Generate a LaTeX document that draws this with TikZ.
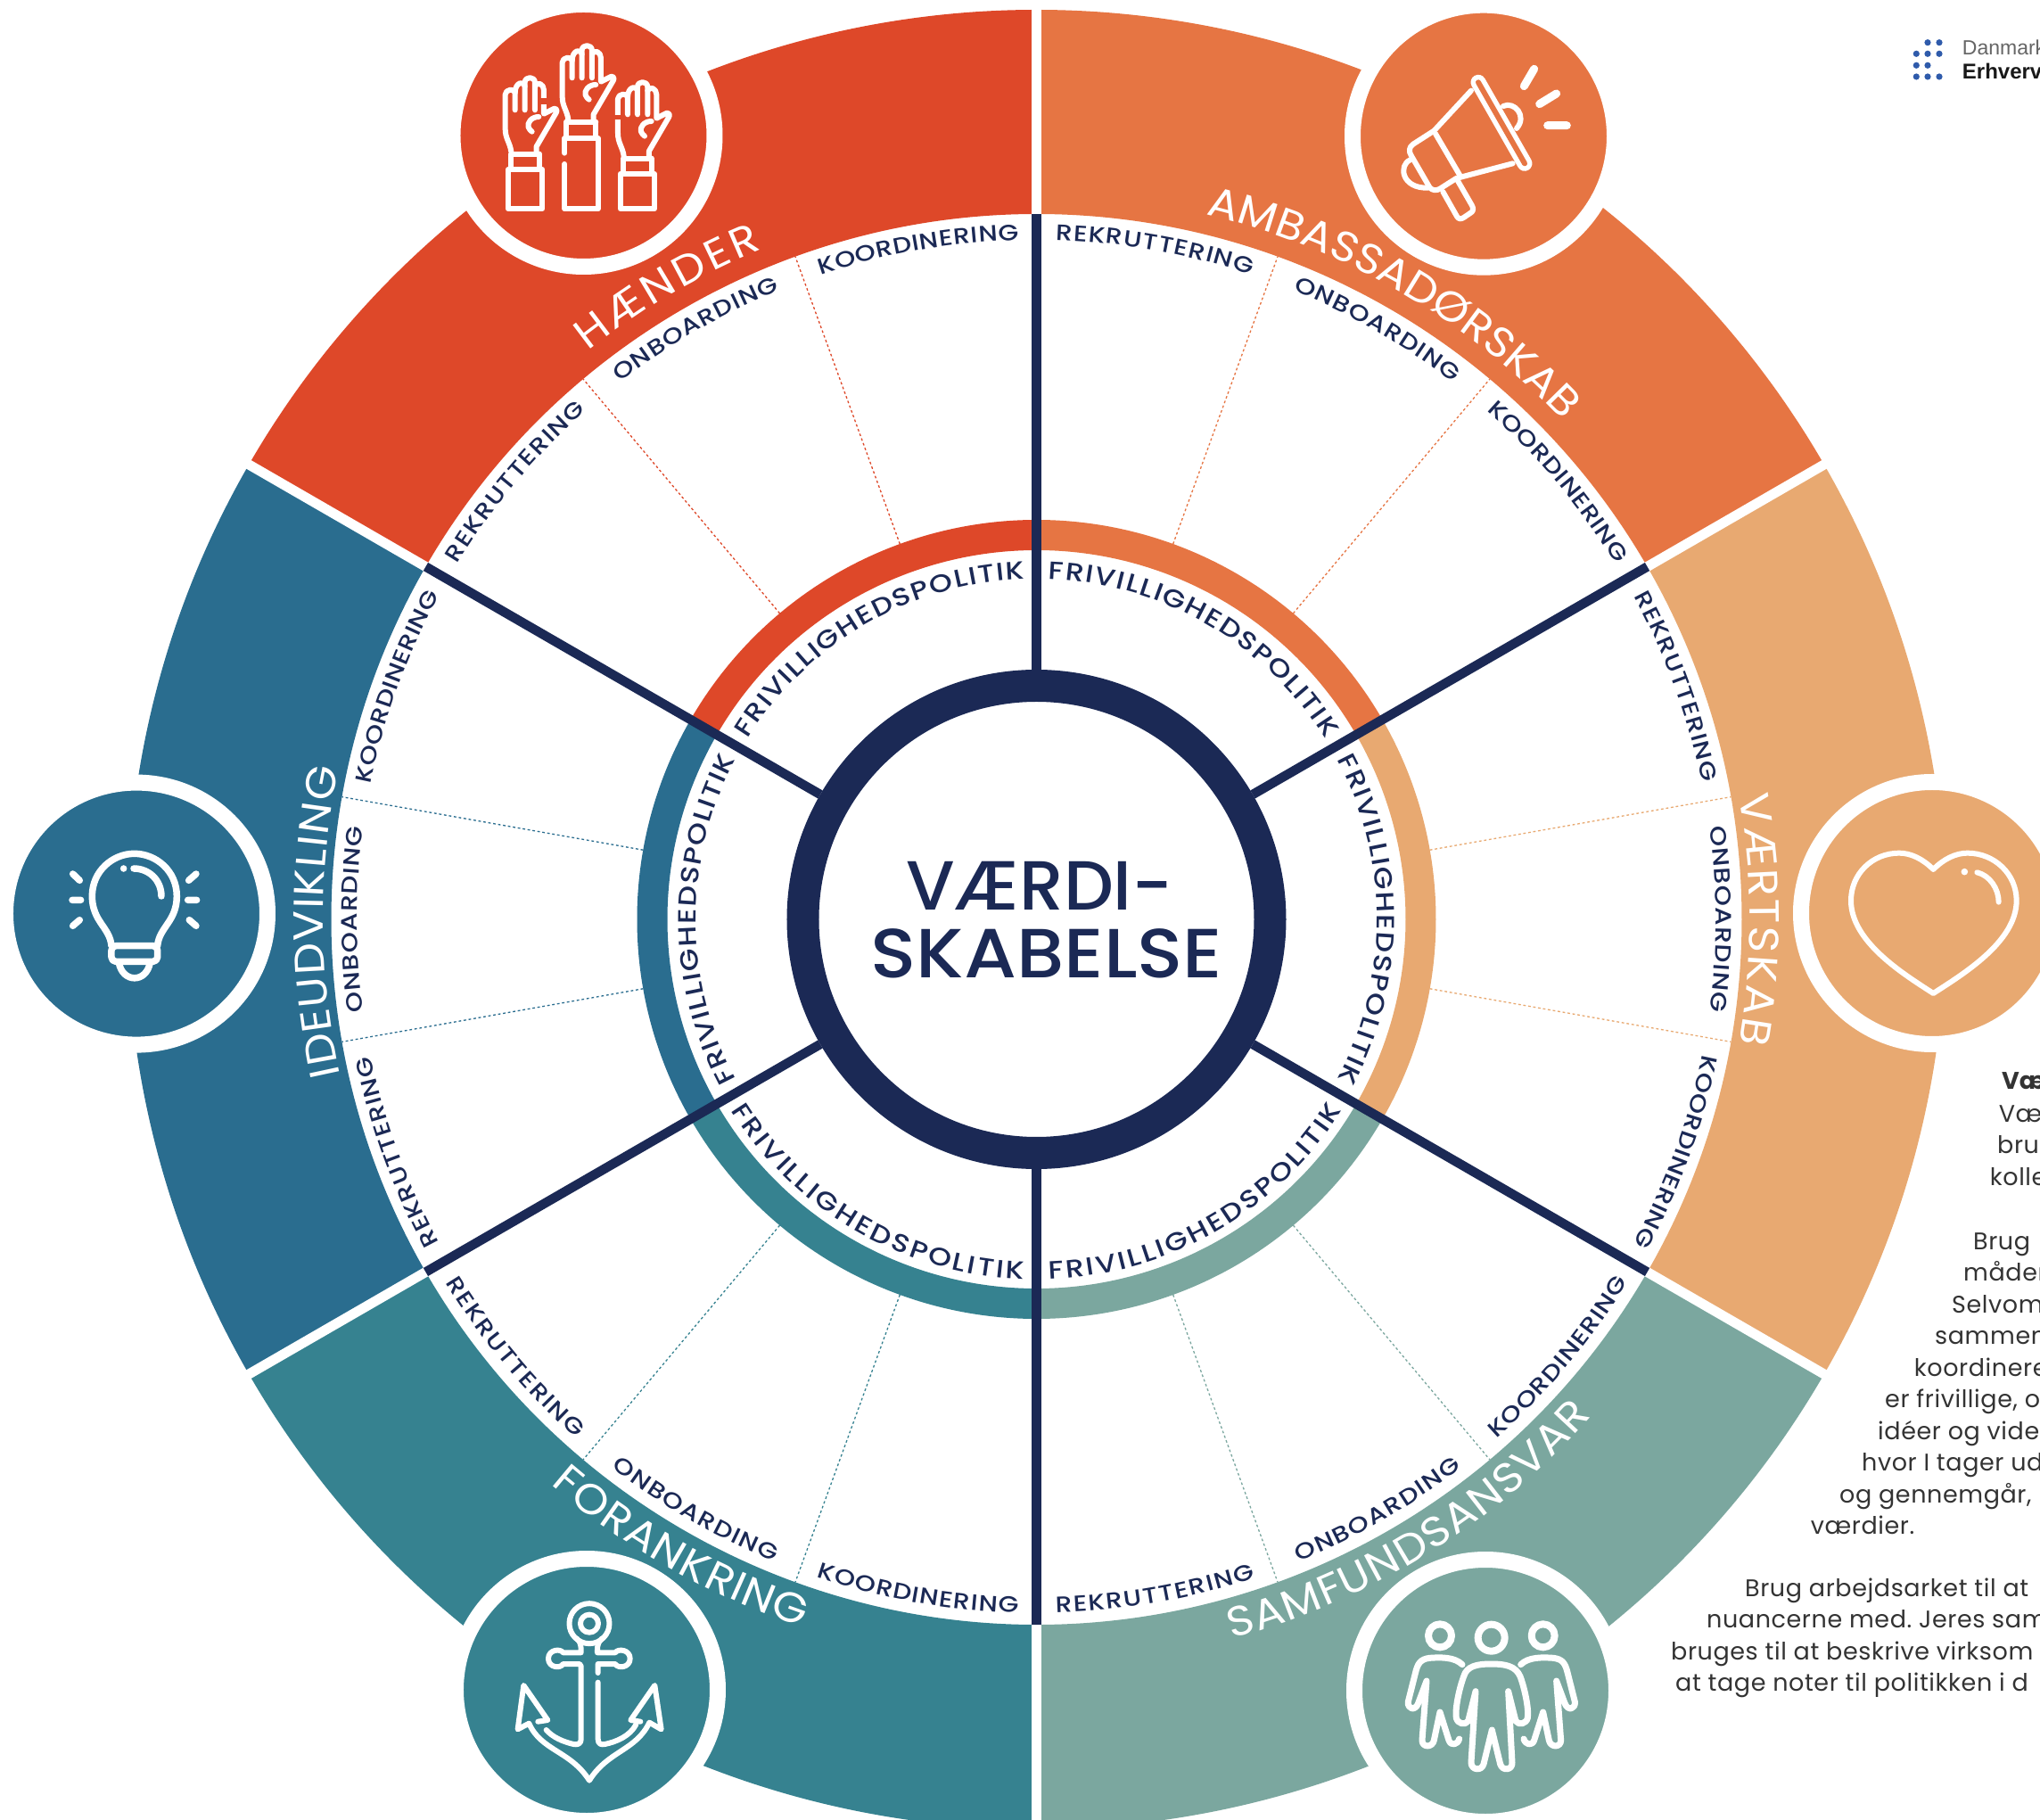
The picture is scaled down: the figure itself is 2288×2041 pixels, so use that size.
\documentclass[tikz,border=0pt]{standalone}
\usepackage{fontspec}
\usetikzlibrary{decorations.text}
\newfontfamily\popf{Poppins}
\newfontfamily\popm{Poppins Medium}
\newfontfamily\popw[FakeStretch=1.18]{Poppins Medium}
\newfontfamily\popb[FakeStretch=1.08]{Poppins}
\newfontfamily\logof{Liberation Sans}
\definecolor{cred}{HTML}{DE4829}
\definecolor{corange}{HTML}{E67543}
\definecolor{csand}{HTML}{E8A971}
\definecolor{csage}{HTML}{7BA79F}
\definecolor{cteal}{HTML}{368290}
\definecolor{cblue}{HTML}{2A6D8F}
\definecolor{navy}{HTML}{1B2955}
\definecolor{bodyc}{HTML}{333333}
\definecolor{logob}{HTML}{2F5BAB}
\newcommand\bigfnt{\popb\fontsize{47}{47}\selectfont}
\newcommand\subfnt{\popw\fontsize{25}{25}\selectfont}
\newcommand\frifnt{\popw\fontsize{28}{28}\selectfont}
% #1 start, #2 end, #3 radius, #4 font, #5 colour, #6 text
\newcommand\arctext[6]{\path[decorate,decoration={text along path,text align={fit to path},text={|\color{#5}#4|#6}}] (#1:#3pt) arc[start angle=#1,end angle=#2,radius=#3pt];}
\newcommand\outarc[5]{\pgfmathsetmacro\sa{#1+#2}\pgfmathsetmacro\ea{#1-#2}\arctext{\sa}{\ea}{#3}{#4}{#5}}
\newcommand\inarc[5]{\pgfmathsetmacro\sa{#1-#2}\pgfmathsetmacro\ea{#1+#2}\arctext{\sa}{\ea}{#3}{#4}{#5}}
\newcommand\sector[3]{\fill[#3] (#1:1020pt) arc[start angle=#1,end angle=#2,radius=1020pt] -- (#2:791pt) arc[start angle=#2,end angle=#1,radius=791pt] -- cycle;
 \fill[#3] (#1:448pt) arc[start angle=#1,end angle=#2,radius=448pt] -- (#2:414pt) arc[start angle=#2,end angle=#1,radius=414pt] -- cycle;}
\newcommand\handlines{
 \draw (412,402) .. controls (408,372) and (392,358) .. (392,325) -- (392,210) .. controls (392,192) and (425,188) .. (425,205) -- (425,262);
 \draw (425,205) .. controls (425,165) and (458,165) .. (458,182);
 \draw (458,262) -- (458,170) .. controls (458,148) and (492,148) .. (492,170) -- (492,262);
 \draw (492,182) .. controls (500,165) and (522,175) .. (522,195) -- (522,275) -- (555,258) .. controls (565,255) and (568,265) .. (563,272) -- (497,385) -- (497,402);
 \draw (505,285) .. controls (480,285) and (465,305) .. (470,320) .. controls (472,328) and (478,330) .. (482,335);
}
\newcommand\bodyline[4]{\node[bodytext] (#1) at ({#2-1162.5},{1031-#3}) {#4};}
\newfontface\bodyf[LetterSpace=2.2]{Poppins}
\tikzset{
 bodytext/.style={anchor=base west,inner sep=0,font=\bodyf\fontsize{27}{27}\selectfont\frenchspacing,text=bodyc},
 gapline/.style={white,line width=11pt},
 spoke/.style={navy,line width=10.5pt},
 dotline/.style={line width=1.3pt,dash pattern=on 2.8pt off 2.8pt},
 bubble/.style={circle,fill=#1,draw=white,line width=18pt,minimum size=294pt,inner sep=0},
 iconline/.style={white,line width=6pt,line cap=round,line join=round},
 logodot/.style={fill=logob}
}
\begin{document}
\begin{tikzpicture}[x=1pt,y=1pt]
\useasboundingbox (-1162.5,-1010) rectangle (1125.5,1031);
\clip (-1162.5,-1010) rectangle (1125.5,1031);
\fill[white] (-1162.5,-1010) rectangle (1125.5,1031);
% sectors
\sector{90}{150}{cred}
\sector{30}{90}{corange}
\sector{-30}{30}{csand}
\sector{-90}{-30}{csage}
\sector{210}{270}{cteal}
\sector{150}{210}{cblue}
% white gaps
\foreach \a in {30,90,150,210,270,330} \draw[gapline] (\a:790pt) -- (\a:1040pt);
% dotted
\foreach \a/\c in {110/cred,130/cred,50/corange,70/corange,10/csand,-10/csand,-50/csage,-70/csage,230/cteal,250/cteal,170/cblue,190/cblue}
  \draw[dotline,\c] (\a:448pt) -- (\a:791pt);
% hub and spokes
\node[circle,draw=navy,fill=white,line width=36pt,minimum size=524pt,inner sep=0] (hub) at (0,0) {};
\foreach \a in {30,90,150,210,270,330} {
  \coordinate (rim\a) at (\a:791pt);
  \draw[spoke] (hub.\a) -- (rim\a);
}
\node[anchor=base,inner sep=0,font=\popm\fontsize{78}{78}\selectfont,text=navy,xscale=1.01] (hubtop) at (3.5,10) {VÆRDI-};
\node[anchor=base,inner sep=0,font=\popm\fontsize{78}{78}\selectfont,text=navy,xscale=1.085] (hubbot) at (11.5,-66) {SKABELSE};
% bubbles
\node[bubble=cred] (bhands) at (-508,879) {};
\node[bubble=corange] (bamb) at (501.5,878.3) {};
\node[bubble=csand] (bheart) at (1004.5,7) {};
\node[bubble=cblue] (bidea) at (-1009.5,6.4) {};
\node[bubble=cteal] (banchor) at (-504.5,-864) {};
\node[bubble=csage] (bpeople) at (503.5,-865) {};
% big labels
\outarc{120.3}{8.0}{812}{\bigfnt}{white}{HÆNDER}
\outarc{60}{16.5}{813}{\bigfnt}{white}{AMBASSADØRSKAB}
\outarc{0}{10}{800}{\bigfnt}{white}{VÆRTSKAB}
\inarc{-58.3}{16.5}{836}{\bigfnt}{white}{SAMFUNDSANSVAR}
\inarc{240.5}{11.2}{836}{\bigfnt}{white}{FORANKRING}
\outarc{180.2}{12.4}{800}{\bigfnt}{white}{IDEUDVIKLING}
% small labels
\outarc{100}{8.5}{762}{\subfnt}{navy}{KOORDINERING}
\outarc{120}{7.8}{762}{\subfnt}{navy}{ONBOARDING}
\outarc{140}{8.5}{762}{\subfnt}{navy}{REKRUTTERING}
\outarc{80}{8.4}{762}{\subfnt}{navy}{REKRUTTERING}
\outarc{60}{7.8}{762}{\subfnt}{navy}{ONBOARDING}
\outarc{40}{8.5}{762}{\subfnt}{navy}{KOORDINERING}
\outarc{20}{8.4}{762}{\subfnt}{navy}{REKRUTTERING}
\outarc{0}{7.8}{762}{\subfnt}{navy}{ONBOARDING}
\outarc{-20}{8.5}{762}{\subfnt}{navy}{KOORDINERING}
\outarc{200}{8.4}{762}{\subfnt}{navy}{REKRUTTERING}
\outarc{180}{7.8}{762}{\subfnt}{navy}{ONBOARDING}
\outarc{160}{8.5}{762}{\subfnt}{navy}{KOORDINERING}
\inarc{280}{8.4}{778}{\subfnt}{navy}{REKRUTTERING}
\inarc{300}{7.8}{778}{\subfnt}{navy}{ONBOARDING}
\inarc{320}{8.5}{778}{\subfnt}{navy}{KOORDINERING}
\inarc{220}{8.4}{778}{\subfnt}{navy}{REKRUTTERING}
\inarc{240}{7.8}{778}{\subfnt}{navy}{ONBOARDING}
\inarc{260}{8.5}{778}{\subfnt}{navy}{KOORDINERING}
% inner ring labels
\outarc{120}{28}{382}{\frifnt}{navy}{FRIVILLIGHEDSPOLITIK}
\outarc{60}{28}{382}{\frifnt}{navy}{FRIVILLIGHEDSPOLITIK}
\outarc{0}{28}{382}{\frifnt}{navy}{FRIVILLIGHEDSPOLITIK}
\outarc{180}{28}{382}{\frifnt}{navy}{FRIVILLIGHEDSPOLITIK}
\inarc{300}{28}{404}{\frifnt}{navy}{FRIVILLIGHEDSPOLITIK}
\inarc{240}{28}{404}{\frifnt}{navy}{FRIVILLIGHEDSPOLITIK}
% hands icon
\begin{scope}[x=0.33333pt,y=-0.33333pt,shift={(-662.5pt,1031pt)},iconline]
 \handlines
 \draw (400,515)--(400,465)--(512,465)--(512,703)--(400,703)--(400,552);
 \draw (405,410)--(505,410) (405,410)--(405,465) (505,410)--(505,465);
 \begin{scope}[shift={(-192,108)}] \handlines \end{scope}
 \draw[line cap=butt,cred,line width=8pt] (330,330)--(330,352);
 \draw (210,703)--(210,570)--(325,570)--(325,703)--cycle;
 \draw (220,518)--(315,518) (220,518)--(220,570) (315,518)--(315,570);
 \begin{scope}[shift={(187,123)}] \handlines \end{scope}
 \draw[line cap=butt,cred,line width=8pt] (579,386)--(579,402);
 \draw (587,703)--(587,585)--(702,585)--(702,703)--cycle;
 \draw (597,533)--(692,533) (597,533)--(597,585) (692,533)--(692,585);
\end{scope}
% megaphone icon
\begin{scope}[x=0.33333pt,y=-0.33333pt,shift={(337.5pt,1011pt)},iconline]
 \draw[line width=17pt] (474,217) -- (630,490);
 \draw[corange,line width=6pt] (474,217) -- (630,490);
 \draw (450,245)--(325,380)--(255,425) .. controls (240,435) and (240,450) .. (248,463) -- (310,570) .. controls (318,582) and (335,582) .. (345,575) -- (400,540) -- (590,490);
 \draw (330,390)--(415,535);
 \draw (245,478) .. controls (205,495) and (215,575) .. (305,572);
 \draw (558,297) .. controls (595,280) and (640,330) .. (603,372);
 \draw (355,585)--(402,668) .. controls (408,678) and (415,678) .. (425,672) -- (450,655) .. controls (458,650) and (458,640) .. (452,630) -- (403,545);
 \draw[line width=9pt] (628,230)--(662,172) (680,290)--(737,255) (707,362)--(772,362);
\end{scope}
% bulb icon
\begin{scope}[x=0.33333pt,y=-0.33333pt,shift={(-1162.5pt,161pt)},iconline,line width=7.5pt]
 \draw (375,572) .. controls (370,510) and (310,490) .. (310,405) .. controls (310,320) and (380,262) .. (452,262) .. controls (525,262) and (595,320) .. (595,405) .. controls (595,490) and (535,510) .. (530,572);
 \draw[rounded corners=5pt] (375,572) -- (530,572) -- (530,625) -- (375,625) -- cycle;
 \draw (400,628) .. controls (412,698) and (493,698) .. (505,628);
 \draw (450,312) .. controls (500,312) and (543,350) .. (543,405);
 \fill[white] (416,312) circle[radius=3.8pt];
 \draw (245,330)--(268,352) (243,418)--(272,418) (245,505)--(268,485) (660,330)--(635,352) (662,418)--(632,418) (660,505)--(637,485);
\end{scope}
% heart icon
\begin{scope}[x=0.33333pt,y=-0.33333pt,shift={(827.5pt,171pt)},iconline]
 \draw (535,345) .. controls (500,310) and (460,290) .. (420,290) .. controls (330,290) and (258,360) .. (258,450) .. controls (258,590) and (440,700) .. (535,762) .. controls (630,700) and (815,590) .. (815,450) .. controls (815,360) and (740,290) .. (650,290) .. controls (610,290) and (570,310) .. (535,345) -- cycle;
 \draw (682,355) .. controls (725,365) and (755,410) .. (755,455);
 \fill[white] (640,353) circle[radius=3.8pt];
\end{scope}
% anchor icon
\begin{scope}[x=0.33333pt,y=-0.33333pt,shift={(-662.5pt,-699pt)},iconline]
 \draw (483,272) circle[radius=22.5pt];
 \draw (483,272) circle[radius=10pt];
 \draw (440,322) .. controls (452,332) and (455,345) .. (455,360) -- (455,370) -- (395,370) .. controls (385,355) and (345,360) .. (345,390) .. controls (345,420) and (385,425) .. (395,408) -- (450,408) -- (455,415) -- (455,660) .. controls (455,680) and (440,680) .. (430,678) .. controls (395,670) and (360,655) .. (338,630);
 \draw (526,322) .. controls (514,332) and (510,345) .. (510,360) -- (510,370) -- (570,370) .. controls (580,355) and (620,360) .. (620,390) .. controls (620,420) and (580,425) .. (570,408) -- (512,408) -- (512,438);
 \draw (512,470) -- (512,660) .. controls (512,680) and (525,680) .. (535,678) .. controls (575,670) and (620,650) .. (640,612);
 \draw (310,602) -- (343,597) -- (262,480) -- (242,628) -- (280,608) .. controls (320,700) and (420,700) .. (483,800) .. controls (545,700) and (640,700) .. (685,605) -- (725,628) -- (703,480) -- (622,597) -- (655,602);
\end{scope}
% people icon
\begin{scope}[x=0.33333pt,y=-0.33333pt,shift={(337.5pt,-699pt)},iconline,line width=7pt]
 \draw[line width=8pt] (518,320) circle[radius=15pt];
 \draw[line width=8pt] (345,313) circle[radius=13pt];
 \draw[line width=8pt] (692,313) circle[radius=13pt];
 \draw (465,500) -- (440,600) .. controls (430,615) and (405,610) .. (400,590) .. controls (395,560) and (410,490) .. (425,450) .. controls (435,415) and (470,408) .. (518,408) .. controls (565,408) and (600,415) .. (615,450) .. controls (630,490) and (645,560) .. (640,590) .. controls (635,610) and (610,615) .. (600,600) -- (575,500) -- (588,740) .. controls (590,765) and (555,770) .. (548,745) -- (520,630) -- (492,745) .. controls (485,770) and (450,765) .. (450,740) -- cycle;
 \draw (420,410) .. controls (395,385) and (350,385) .. (310,388) .. controls (280,392) and (270,405) .. (262,440) -- (238,535) .. controls (235,560) and (262,568) .. (272,540) -- (300,465) -- (285,665) .. controls (285,690) and (320,690) .. (325,665) -- (345,570) -- (375,665) .. controls (382,685) and (405,680) .. (410,660);
 \draw (617,410) .. controls (642,385) and (687,385) .. (727,388) .. controls (757,392) and (767,405) .. (775,440) -- (799,535) .. controls (802,560) and (775,568) .. (765,540) -- (737,465) -- (752,665) .. controls (752,690) and (717,690) .. (712,665) -- (692,570) -- (662,665) .. controls (655,685) and (632,680) .. (627,660);
\end{scope}
% logo
\foreach \x/\y in {2162/47.7,2175/47.7,2149.3/60.3,2162/60.3,2175/60.3,2149.3/73.3,2162/73.3,2149.3/86,2162/86,2175/86}
  \fill[logodot] ({\x-1162.5},{1031-\y}) circle[radius=3.6pt];
\node[anchor=base west,inner sep=0,text=black!60,font=\logof\fontsize{23}{23}\selectfont] (logoa) at (1038.2,969) {Danmark};
\node[anchor=base west,inner sep=0,text=black!90,font=\logof\bfseries\fontsize{24}{24}\selectfont] (logob) at (1038.2,942) {Erhverv};
% body text
\node[bodytext,font=\popf\bfseries\fontsize{27}{27}\selectfont] (t0) at ({2245-1162.5},{1031-1222}) {Væ};
\bodyline{t1}{2241.7}{1258.5}{Væ}
\bodyline{t2}{2240}{1294}{bru}
\bodyline{t3}{2231.7}{1329.5}{kolle}
\bodyline{t4}{2213}{1401}{Brug}
\bodyline{t5}{2202}{1436.5}{måder}
\bodyline{t6}{2189}{1472}{Selvom}
\bodyline{t7}{2170}{1507.5}{sammen}
\bodyline{t8}{2146.7}{1543}{koordinere}
\bodyline{t9}{2114}{1578.5}{er frivillige, o}
\bodyline{t10}{2106}{1614}{idéer og viden}
\bodyline{t11}{2088}{1649.5}{hvor I tager ud}
\bodyline{t12}{2063}{1685}{og gennemgår, h}
\bodyline{t13}{2030.7}{1720.5}{værdier.}
\bodyline{t14}{1957}{1790}{Brug arbejdsarket til at}
\bodyline{t15}{1914}{1825.5}{nuancerne med. Jeres sam}
\bodyline{t16}{1874}{1861}{bruges til at beskrive virksom}
\bodyline{t17}{1879}{1896}{at tage noter til politikken i d}
\end{tikzpicture}
\end{document}
